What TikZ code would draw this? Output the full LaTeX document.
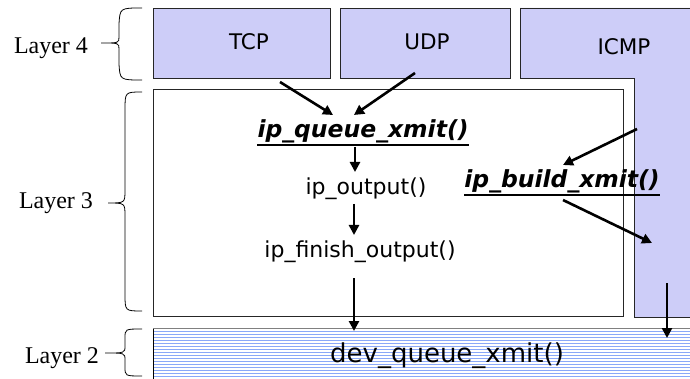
\documentclass[tikz,border=0pt]{standalone}
\usepackage{fontspec}
\setmainfont{DejaVu Sans}
\newfontfamily\layerfont{Liberation Serif}
\usetikzlibrary{arrows.meta}
\definecolor{lav}{RGB}{205,205,248}
\definecolor{stripe}{RGB}{138,168,248}
\begin{document}
\begin{tikzpicture}[x=1pt,y=-1pt,
  proto/.style={fill=lav,draw=black!85,line width=0.9pt},
  lbl/.style={anchor=base,inner sep=0pt,font=\fontsize{21.5}{24}\selectfont},
  fn/.style={anchor=base,inner sep=0pt,font=\fontsize{22}{26}\selectfont},
  keyfn/.style={anchor=base,inner sep=0pt,font=\fontsize{23.5}{28}\selectfont\bfseries\itshape},
  uline/.style={line width=1.9pt},
  layer/.style={anchor=base,inner sep=0pt,font=\layerfont\fontsize{24}{28}\selectfont},
  flow/.style={line width=2.6pt,-{Triangle[length=10pt,width=10pt]}},
  bracep/.style={line width=0.8pt}]
\useasboundingbox (0,0) rectangle (690,379);
\fill[white] (0,0) rectangle (690,379);
% layer 4 boxes
\draw[proto] (153,8) rectangle (330,78);
\draw[proto] (340,8) rectangle (510,78);
\fill[lav] (520,8) -- (690,8) -- (690,317) -- (634,317) -- (634,78) -- (520,78) -- cycle;
\draw[line width=0.9pt,black!85] (690,8) -- (520,8) -- (520,78) -- (634,78) -- (634,317) -- (690,317);
% layer 3 box
\draw[line width=0.9pt,black!85,fill=white] (153,89) rectangle (623,316);
% layer 2 box
\fill[white] (153,329) rectangle (690,379);
\foreach \yy in {331,334,...,379} \draw[stripe,line width=1pt] (153,\yy) -- (690,\yy);
\draw[black!50,line width=1.3pt] (153,328.5) -- (690,328.5);
\draw[black,line width=0.9pt] (153.5,328.5) -- (153.5,379);
% braces
\draw[bracep] (142,8) .. controls (120,8) .. (119,24) -- (119,37) .. controls (119,43) .. (101,43) .. controls (119,43) .. (119,49) -- (119,64) .. controls (120,80) .. (142,80);
\draw[bracep] (142,92) .. controls (125,92) .. (125,110) -- (125,190) .. controls (125,203) .. (108,203) .. controls (125,203) .. (125,216) -- (125,294) .. controls (125,311) .. (142,311);
\draw[bracep] (142,329) .. controls (125,329) .. (125,338) -- (125,346) .. controls (125,353) .. (105,353) .. controls (125,353) .. (125,360) -- (125,367) .. controls (125,376) .. (142,376);
% labels
\node[layer] (l4) at (51,54) {Layer 4};
\node[layer] (l3) at (56,209) {Layer 3};
\node[layer] (l2) at (62,363) {Layer 2};
\node[lbl] (tcp) at (249,50) {TCP};
\node[lbl] (udp) at (427,50) {UDP};
\node[lbl] (icmp) at (624,55) {ICMP};
\node[keyfn] (ipq) at (363,138) {ip\_queue\_xmit()};
\draw[uline] ([yshift=-1.5pt]ipq.south west) -- ([yshift=-1.5pt]ipq.south east);
\node[fn] (ipo) at (366,195) {ip\_output()};
\node[fn] (ipf) at (360,258) {ip\_finish\_output()};
\node[keyfn] (ipb) at (562,188) {ip\_build\_xmit()};
\draw[uline] ([yshift=-1.5pt]ipb.south west) -- ([yshift=-1.5pt]ipb.south east);
\node[anchor=base,inner sep=0pt,font=\fontsize{26}{30}\selectfont] (dev) at (447,362) {dev\_queue\_xmit()};
% arrow endpoints
\coordinate (tcpout) at (280,82);
\coordinate (udpout) at (415,73);
\coordinate (ipqin1) at (333,115);
\coordinate (ipqin2) at (354,115);
\coordinate (ipqout) at (355,147);
\coordinate (ipoin) at (355,172);
\coordinate (ipoout) at (354,204);
\coordinate (ipfin) at (354,235);
\coordinate (ipfout) at (354,278);
\coordinate (devin) at (354,331);
\coordinate (icmpout) at (637,129);
\coordinate (ipbin) at (563,165);
\coordinate (ipbout) at (563,200);
\coordinate (icmpin) at (652,243);
\coordinate (icmpdown) at (667,283);
\coordinate (devin2) at (667,338);
% arrows
\draw[flow] (tcpout) -- (ipqin1);
\draw[flow] (udpout) -- (ipqin2);
\draw[flow] (ipqout) -- (ipoin);
\draw[flow] (ipoout) -- (ipfin);
\draw[flow] (ipfout) -- (devin);
\draw[flow] (icmpout) -- (ipbin);
\draw[flow] (ipbout) -- (icmpin);
\draw[flow] (icmpdown) -- (devin2);
\end{tikzpicture}
\end{document}
